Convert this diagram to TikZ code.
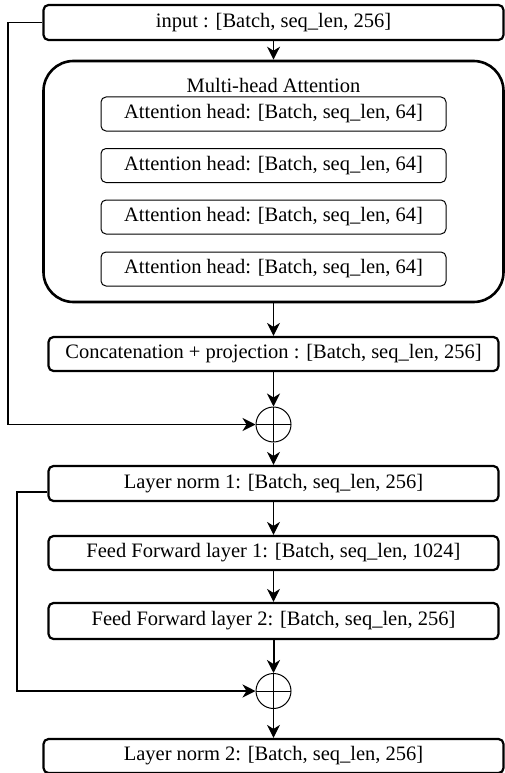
\documentclass[tikz,border=0pt]{standalone}
\usepackage{fontspec}
\setmainfont{Liberation Serif}
\usetikzlibrary{arrows.meta,calc}
\begin{document}
\begin{tikzpicture}[x=1pt,y=1pt,
  font=\fontsize{20.5}{24}\selectfont,
  mainbox/.style={draw, line width=2.2pt, rounded corners=5pt, inner sep=0pt, minimum height=34pt},
  widebox/.style={mainbox, minimum width=460pt},
  narrowbox/.style={mainbox, minimum width=450pt},
  headbox/.style={draw, line width=1pt, rounded corners=5pt, inner sep=0pt, minimum width=345pt, minimum height=34pt},
  sumnode/.style={draw, circle, line width=1pt, minimum size=35pt, inner sep=0pt,
    path picture={\draw[line width=1pt] (path picture bounding box.north) -- (path picture bounding box.south)
      (path picture bounding box.west) -- (path picture bounding box.east);}},
  conn/.style={line width=1.2pt, -{Stealth[length=13pt,width=13pt,inset=4pt]}},
  thickconn/.style={conn, line width=2pt}
]
\useasboundingbox (0,0) rectangle (504,-773);
\def\cx{273.5}
\node[widebox, minimum height=35pt] (input) at (\cx,-22.5) {input : [Batch, seq\_len, 256]};
\node[draw, line width=2.6pt, rounded corners=30pt, minimum width=460pt, minimum height=241pt, inner sep=0pt] (mha) at (\cx,-181.5) {};
\node[inner sep=0pt] (mhalabel) at (\cx,-85) {Multi-head Attention};
\node[headbox] (h1) at (\cx,-114) {Attention head: [Batch, seq\_len, 64]};
\node[headbox] (h2) at (\cx,-165.5) {Attention head: [Batch, seq\_len, 64]};
\node[headbox] (h3) at (\cx,-217) {Attention head: [Batch, seq\_len, 64]};
\node[headbox] (h4) at (\cx,-269) {Attention head: [Batch, seq\_len, 64]};
\node[narrowbox] (concat) at (\cx,-354) {Concatenation + projection : [Batch, seq\_len, 256]};
\node[sumnode] (sum1) at (\cx,-424.5) {};
\node[narrowbox, minimum height=35pt] (ln1) at (\cx,-483.5) {Layer norm 1: [Batch, seq\_len, 256]};
\node[narrowbox] (ff1) at (\cx,-553) {Feed Forward layer 1: [Batch, seq\_len, 1024]};
\node[narrowbox, minimum height=36pt] (ff2) at (\cx,-621) {Feed Forward layer 2: [Batch, seq\_len, 256]};
\node[sumnode] (sum2) at (\cx,-691) {};
\node[widebox] (ln2) at (\cx,-756) {Layer norm 2: [Batch, seq\_len, 256]};

\draw[conn] (input) -- (mha);
\draw[conn] (mha) -- (concat);
\draw[conn] (concat) -- (sum1);
\draw[conn] (sum1) -- (ln1);
\draw[conn] (ln1) -- (ff1);
\draw[conn] (ff1) -- (ff2);
\draw[thickconn] (ff2) -- (sum2);
\draw[conn] (sum2) -- (ln2);
\draw[conn] (input.west) -| (8,-300) |- (sum1.west);
\draw[conn] ([yshift=-8.5pt]ln1.west) -| (17,-600) |- (sum2.west);
\end{tikzpicture}
\end{document}
